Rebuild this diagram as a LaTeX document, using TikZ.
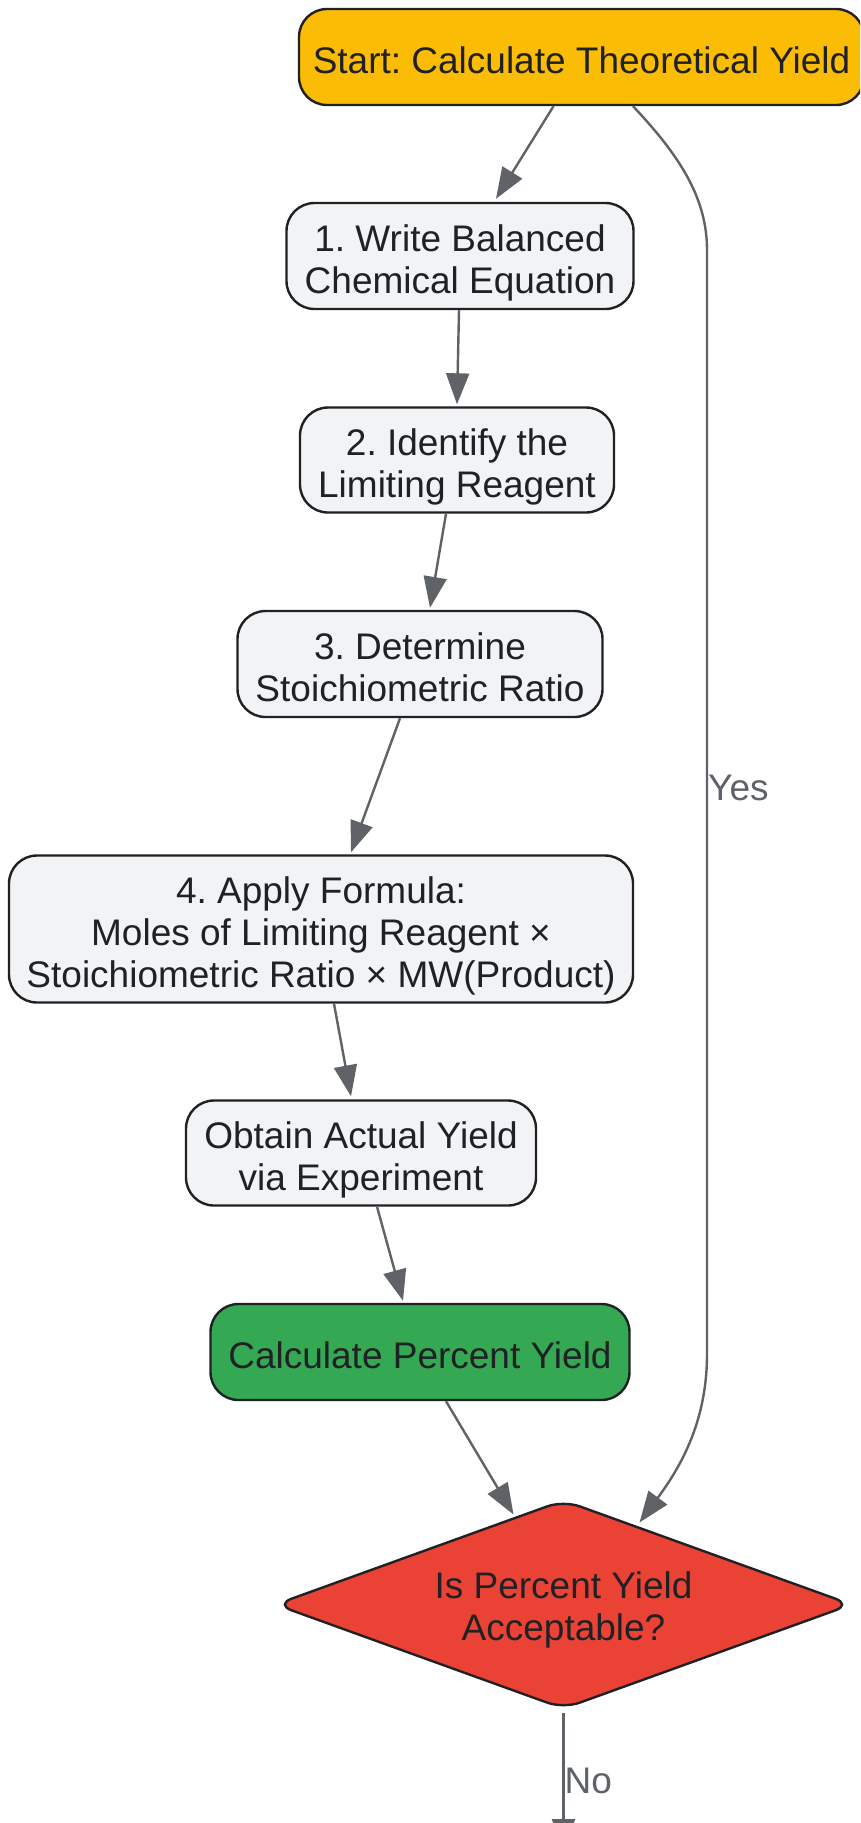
\documentclass[tikz,border=0pt]{standalone}
\usepackage{fontspec}
\setmainfont{Liberation Sans}
\usetikzlibrary{arrows.meta,calc}
\definecolor{startfill}{HTML}{FBBC05}
\definecolor{stepfill}{HTML}{F1F3F4}
\definecolor{greenfill}{HTML}{34A853}
\definecolor{redfill}{HTML}{EA4335}
\definecolor{borderc}{HTML}{202124}
\definecolor{edgec}{HTML}{5F6368}
\newcommand{\ls}{\rule[-8.2pt]{0pt}{42pt}}
\newcommand{\fl}{\rule[-8.2pt]{0pt}{49pt}}
\newcommand{\boxfont}{\fontsize{37}{42}\selectfont\setlength{\lineskiplimit}{-100pt}}
\tikzset{
  box/.style={draw=borderc, line width=2.4pt, rounded corners=28pt, fill=stepfill,
    align=center, text=borderc, inner sep=0pt, font=\boxfont},
  dtext/.style={align=center, text=borderc, inner sep=0pt, font=\boxfont},
  dshape/.style={draw=borderc, line width=2.4pt, rounded corners=17pt, fill=redfill},
  edge/.style={draw=edgec, line width=2.4pt, -{Triangle[length=31pt,width=23pt]}},
  elabel/.style={text=edgec, font=\fontsize{37}{42}\selectfont, inner sep=0pt, anchor=west}
}
\begin{document}
\frenchspacing
\begin{tikzpicture}[x=1pt,y=-1pt]
\clip (0,0) rectangle (860,1823);
\fill[white] (0,0) rectangle (860,1823);
\node[box, fill=startfill, minimum width=565pt, minimum height=96pt] (start) at (581.5,57) {\fl Start: Calculate Theoretical Yield};
\node[box, minimum width=347pt, minimum height=106pt] (n1) at (460,256) {\fl 1. Write Balanced\\\ls Chemical Equation};
\node[box, minimum width=314pt, minimum height=105pt] (n2) at (457,460) {\fl 2. Identify the\\\ls Limiting Reagent};
\node[box, minimum width=365pt, minimum height=106pt] (n3) at (420,664) {\fl 3. Determine\\\ls Stoichiometric Ratio};
\node[box, minimum width=624pt, minimum height=147pt] (n4) at (321,929) {\fl 4. Apply Formula:\\\ls Moles of Limiting Reagent ×\\\ls Stoichiometric Ratio × MW(Product)};
\node[box, minimum width=350pt, minimum height=105pt] (n5) at (361,1153) {\fl Obtain Actual Yield\\\ls via Experiment};
\node[box, fill=greenfill, minimum width=419pt, minimum height=96pt] (n6) at (420,1352) {\fl Calculate Percent Yield};
\coordinate (dc) at (563.5,1604.5);
\path[dshape] ($(dc)+(0,-104)$) -- ($(dc)+(288,0)$) -- ($(dc)+(0,104)$) -- ($(dc)+(-288,0)$) -- cycle;
\node[dtext] (d) at (563.5,1603.5) {\fl Is Percent Yield\\\ls Acceptable?};
\coordinate (endno) at (563.5,1850);

\draw[edge] ($(start.south)+(-28,0)$) -- ($(n1.north)+(36,-3)$);
\draw[edge] ($(n1.south)+(-1,0)$) -- ($(n2.north)+(0,-2)$);
\draw[edge] ($(n2.south)+(-11,0)$) -- ($(n3.north)+(10,-2)$);
\draw[edge] ($(n3.south)+(-20,0)$) -- ($(n4.north)+(30,-2)$);
\draw[edge] ($(n4.south)+(13,0)$) -- ($(n5.north)+(-10,-3)$);
\draw[edge] ($(n5.south)+(16,0)$) -- ($(n6.north)+(-17,-2)$);
\draw[edge] ($(n6.south)+(26,0)$) -- ($(dc)+(-50,-90)$);
\draw[edge] ($(start.south)+(51.5,0)$) .. controls (682,158) and (707,200) .. (707,250)
  -- node[elabel, pos=0.487] (yes) {Yes} (707,1354)
  .. controls (707,1420) and (682,1465) .. ($(dc)+(76,-82)$);
\draw[edge] ($(dc)+(0,108)$) -- node[elabel, pos=0.5] (no) {No} (endno);
\end{tikzpicture}
\end{document}
